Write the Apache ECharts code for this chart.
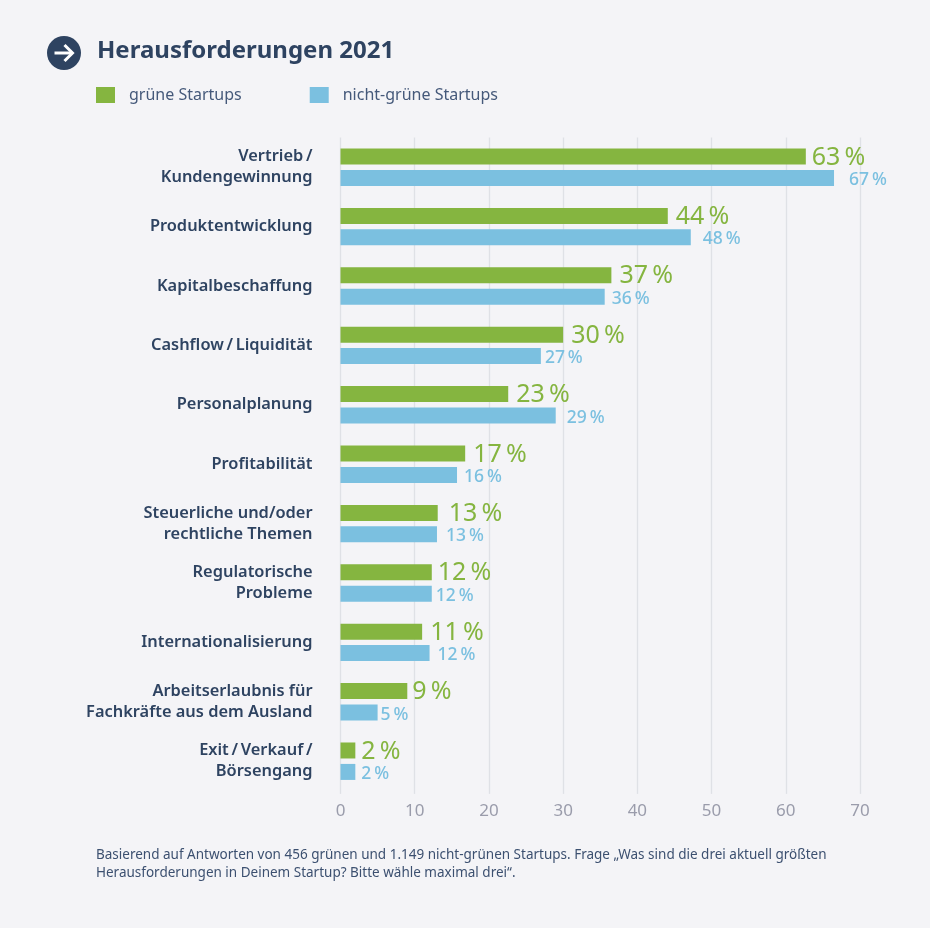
<!DOCTYPE html>
<html>
<head>
<meta charset="utf-8">
<title>Herausforderungen 2021</title>
<script src="https://cdn.jsdelivr.net/npm/echarts@6/dist/echarts.min.js"></script>
<style>
	html, body { margin: 0; padding: 0; background: #f4f4f7; }
	#chart { width: 930px; height: 928px; }
</style>
</head>
<body>
<div id="chart"></div>
<script>
var categories = [
	'Vertrieb\u2009/\nKundengewinnung',
	'Produktentwicklung',
	'Kapitalbeschaffung',
	'Cashflow\u2009/\u2009Liquidität',
	'Personalplanung',
	'Profitabilität',
	'Steuerliche und/oder\nrechtliche Themen',
	'Regulatorische\nProbleme',
	'Internationalisierung',
	'Arbeitserlaubnis für\nFachkräfte aus dem Ausland',
	'Exit\u2009/\u2009Verkauf\u2009/\nBörsengang'
];
// bar lengths as drawn, read against the axis
var greenValues = [62.7, 44.1, 36.5, 30, 22.6, 16.8, 13.1, 12.3, 11, 9, 2];
var blueValues = [66.5, 47.2, 35.6, 27, 29, 15.7, 13, 12.3, 12, 5, 2];
// numbers as printed next to the bars
var greenLabels = [63, 44, 37, 30, 23, 17, 13, 12, 11, 9, 2];
var blueLabels = [67, 48, 36, 27, 29, 16, 13, 12, 12, 5, 2];
var xTicks = [0, 10, 20, 30, 40, 50, 60, 70];
var seriesNames = ['grüne Startups', 'nicht-grüne Startups'];

// the printed labels do not sit at a constant distance from the bars
var greenGaps = [6, 8, 8, 8, 8, 8, 11, 6, 8, 5, 6];
var blueGaps = [15, 12, 7, 4, 11, 7, 9, 4, 8, 3, 6];

var GREEN = '#85b540';
var BLUE = '#7bc0e0';
var NAVY = '#2e4361';
var FONT = '"Noto Sans", sans-serif';

function makeData(values, labels, gaps) {
	return values.map(function (v, i) {
		return {
			value: v,
			printed: labels[i],
			label: { distance: gaps[i] }
		};
	});
}

var myChart = echarts.init(document.getElementById('chart'), null, { renderer: 'canvas' });

var option = {
	backgroundColor: '#f4f4f7',
	animation: false,
	textStyle: { fontFamily: FONT },
	title: {
		text: 'Herausforderungen 2021',
		left: 92,
		top: 34,
		textStyle: { fontFamily: FONT, fontSize: 24, fontWeight: 700, color: NAVY }
	},
	legend: {
		left: 91,
		top: 82,
		itemWidth: 19,
		itemHeight: 16,
		itemGap: 68,
		icon: 'rect',
		data: seriesNames,
		textStyle: { fontFamily: FONT, fontSize: 16, color: '#45597a', padding: [0, 0, 0, 9] }
	},
	grid: { left: 340.5, right: 70, top: 137.5, height: 653.4 },
	xAxis: {
		type: 'value',
		min: 0,
		max: 70,
		interval: 10,
		axisLine: { show: false },
		axisTick: { show: true, length: 3, lineStyle: { color: '#dfe1e6', width: 1.3 } },
		splitLine: { show: true, lineStyle: { color: '#dfe1e6', width: 1.3 } },
		axisLabel: {
			margin: 12,
			fontFamily: FONT,
			fontSize: 17,
			color: '#9a9cab',
			customValues: xTicks
		}
	},
	yAxis: {
		type: 'category',
		inverse: true,
		data: categories,
		axisLine: { show: false },
		axisTick: { show: false },
		axisLabel: {
			margin: 28,
			padding: [3, 0, 0, 0],
			fontFamily: FONT,
			fontSize: 16.4,
			fontWeight: 600,
			lineHeight: 21,
			align: 'right',
			color: NAVY
		}
	},
	series: [
		{
			name: seriesNames[0],
			type: 'bar',
			barWidth: 16,
			barGap: '34%',
			itemStyle: { color: GREEN },
			data: makeData(greenValues, greenLabels, greenGaps),
			label: {
				show: true,
				position: 'right',
				offset: [0, 1],
				fontFamily: FONT,
				fontSize: 25,
				fontWeight: 400,
				color: GREEN,
				formatter: function (p) { return p.data.printed + '\u2009%'; }
			}
		},
		{
			name: seriesNames[1],
			type: 'bar',
			barWidth: 16,
			itemStyle: { color: BLUE },
			data: makeData(blueValues, blueLabels, blueGaps),
			label: {
				show: true,
				position: 'right',
				offset: [0, 2],
				fontFamily: FONT,
				fontSize: 17.5,
				fontWeight: 500,
				color: BLUE,
				formatter: function (p) { return p.data.printed + '\u2009%'; }
			}
		}
	],
	graphic: [
		{
			type: 'circle',
			shape: { cx: 64, cy: 53, r: 17 },
			style: { fill: NAVY }
		},
		{
			type: 'polyline',
			shape: { points: [[54.5, 53], [72, 53]] },
			style: { stroke: '#ffffff', lineWidth: 3, fill: null }
		},
		{
			type: 'polyline',
			shape: { points: [[64.5, 45], [72.5, 53], [64.5, 61]] },
			style: { stroke: '#ffffff', lineWidth: 3, fill: null }
		},
		{
			type: 'text',
			left: 96,
			top: 846,
			style: {
				text: 'Basierend auf Antworten von 456 grünen und 1.149 nicht-grünen Startups. Frage „Was sind die drei aktuell größten\nHerausforderungen in Deinem Startup? Bitte wähle maximal drei“.',
				font: '13.5px ' + FONT,
				lineHeight: 18,
				fill: '#3c5070'
			}
		}
	]
};

myChart.setOption(option);
window.addEventListener('resize', myChart.resize);
</script>
</body>
</html>
